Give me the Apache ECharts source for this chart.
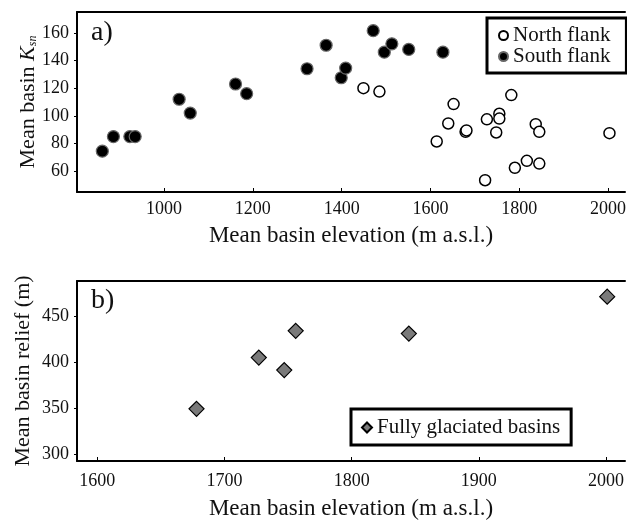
<!DOCTYPE html>
<html>
<head>
<meta charset="UTF-8">
<title>Basin Ksn and relief vs elevation</title>
<script src="https://cdn.jsdelivr.net/npm/echarts@6/dist/echarts.min.js"></script>
<style>
html, body { margin: 0; padding: 0; background: #fff; overflow: hidden; }
#chart { width: 627px; height: 520px; }
</style>
</head>
<body>
<div id="chart"></div>
<script>
// panel a) - mean basin Ksn vs elevation
var southElev = [861, 886, 923, 935, 1034, 1059, 1161, 1186, 1322, 1365, 1399, 1409, 1471, 1496, 1513, 1551, 1628];
var southKsn = [74.5, 85, 85, 85, 112, 102, 123, 116, 134, 151, 127.5, 134.5, 161.5, 146, 152, 148, 146];
var northElev = [1449, 1485, 1614, 1640, 1652, 1679, 1681, 1723, 1727, 1748, 1755, 1755, 1782, 1790, 1817, 1837, 1845, 1845, 2003];
var northKsn = [120, 117.5, 81.5, 94.5, 108.5, 88.5, 89.5, 53.5, 97.5, 88, 101.5, 98, 115, 62.5, 67.5, 94, 88.5, 65.5, 87.5];
var ticksA_x = [1000, 1200, 1400, 1600, 1800, 2000];
var ticksA_y = [60, 80, 100, 120, 140, 160];

// panel b) - fully glaciated basins
var glacElev = [1678, 1727, 1747, 1756, 1845, 2001];
var glacRelief = [349.5, 405, 391.5, 434, 431, 471];
var ticksB_x = [1600, 1700, 1800, 1900, 2000];
var ticksB_y = [300, 350, 400, 450];

// axis ranges [xmin, xmax, ymin, ymax]
var rangeA = [804, 2038, 45, 175];
var rangeB = [1584, 2015, 293, 488];

function pairs(xs, ys) {
  return xs.map(function (x, i) { return [x, ys[i]]; });
}

var font = "'Liberation Serif', 'Times New Roman', serif";
var ink = '#111';

function frame() {
  return { show: true, onZero: false, lineStyle: { color: '#000', width: 2 } };
}

function valAxis(opt) {
  var ax = {
    type: 'value',
    gridIndex: opt.grid,
    min: opt.min,
    max: opt.max,
    name: opt.name,
    nameLocation: 'middle',
    nameGap: opt.nameGap,
    nameMoveOverlap: false,
    nameTextStyle: { fontFamily: font, fontSize: opt.nameSize, color: ink, rich: opt.rich },
    axisLine: frame(),
    axisTick: {
      show: true, inside: opt.tickInside, length: opt.tickLen,
      customValues: opt.ticks,
      lineStyle: { color: '#000', width: 1 }
    },
    axisLabel: {
      customValues: opt.ticks, margin: opt.margin,
      fontFamily: font, fontSize: 18, color: ink,
      formatter: function (v) { return String(v); }
    },
    splitLine: { show: false }
  };
  if (opt.rotate) ax.nameRotate = 90;
  return ax;
}

// plain top edge of each panel
function topEdge(grid, min, max) {
  return {
    type: 'value', gridIndex: grid, position: 'top', min: min, max: max,
    axisLine: frame(), axisTick: { show: false }, axisLabel: { show: false }, splitLine: { show: false }
  };
}

var subRich = {
  k: { fontFamily: font, fontSize: 22, fontStyle: 'italic', color: ink, lineHeight: 22 },
  s: { fontFamily: font, fontSize: 12, fontStyle: 'italic', color: ink, lineHeight: 12, verticalAlign: 'bottom' }
};

var chart = echarts.init(document.getElementById('chart'));

chart.setOption({
  backgroundColor: '#fff',
  animation: false,
  textStyle: { fontFamily: font },
  grid: [
    { left: 77, right: 2, top: 12, bottom: 328, outerBoundsMode: 'none', containLabel: false },
    { left: 77, right: 2, top: 281, bottom: 59, outerBoundsMode: 'none', containLabel: false }
  ],
  xAxis: [
    valAxis({ grid: 0, min: rangeA[0], max: rangeA[1], name: 'Mean basin elevation (m a.s.l.)', nameGap: 32, nameSize: 23,
      ticks: ticksA_x, tickInside: true, tickLen: 4, margin: 8 }),
    valAxis({ grid: 1, min: rangeB[0], max: rangeB[1], name: 'Mean basin elevation (m a.s.l.)', nameGap: 36, nameSize: 23,
      ticks: ticksB_x, tickInside: true, tickLen: 4, margin: 11 }),
    topEdge(0, rangeA[0], rangeA[1]),
    topEdge(1, rangeB[0], rangeB[1])
  ],
  yAxis: [
    valAxis({ grid: 0, min: rangeA[2], max: rangeA[3], name: 'Mean basin {k|K}{s|sn}', nameGap: 38, nameSize: 22, rotate: true,
      rich: subRich, ticks: ticksA_y, tickInside: false, tickLen: 3, margin: 8 }),
    valAxis({ grid: 1, min: rangeB[2], max: rangeB[3], name: 'Mean basin relief (m)', nameGap: 43, nameSize: 22, rotate: true,
      ticks: ticksB_y, tickInside: false, tickLen: 3, margin: 8 })
  ],
  legend: [
    {
      data: ['North flank', 'South flank'],
      orient: 'vertical',
      left: 487, top: 18,
      padding: [7, 16, 6, 11],
      itemGap: 0,
      itemWidth: 9, itemHeight: 9,
      borderColor: '#000', borderWidth: 3,
      textStyle: { fontFamily: font, fontSize: 21, color: ink, lineHeight: 20 }
    },
    {
      data: ['Fully glaciated basins'],
      left: 351, top: 409,
      padding: [8, 11, 7, 10],
      itemWidth: 10, itemHeight: 10,
      borderColor: '#000', borderWidth: 3,
      textStyle: { fontFamily: font, fontSize: 21, color: ink, lineHeight: 21 }
    }
  ],
  graphic: [
    { type: 'text', left: 91, top: 19, style: { text: 'a)', fontFamily: font, fontSize: 28, fill: ink } },
    { type: 'text', left: 91, top: 287, style: { text: 'b)', fontFamily: font, fontSize: 28, fill: ink } }
  ],
  series: [
    {
      name: 'South flank', type: 'scatter', xAxisIndex: 0, yAxisIndex: 0,
      data: pairs(southElev, southKsn),
      symbol: 'circle', symbolSize: 12,
      itemStyle: { color: '#000', borderColor: '#666', borderWidth: 1.2, opacity: 1 }
    },
    {
      name: 'North flank', type: 'scatter', xAxisIndex: 0, yAxisIndex: 0,
      data: pairs(northElev, northKsn),
      symbol: 'circle', symbolSize: 11,
      itemStyle: { color: '#fff', borderColor: '#000', borderWidth: 1.5, opacity: 1 }
    },
    {
      name: 'Fully glaciated basins', type: 'scatter', xAxisIndex: 1, yAxisIndex: 1,
      data: pairs(glacElev, glacRelief),
      symbol: 'diamond', symbolSize: 15,
      itemStyle: { color: '#7a7a7a', borderColor: '#000', borderWidth: 1.2, opacity: 1 }
    }
  ]
});
</script>
</body>
</html>
